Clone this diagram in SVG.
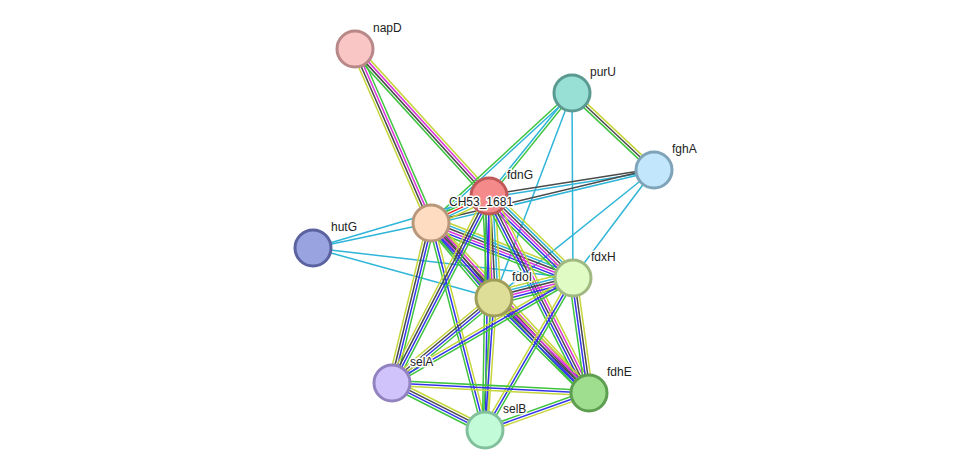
<svg xmlns="http://www.w3.org/2000/svg" width="976" height="476" viewBox="0 0 976 476">
<style>
line{stroke-width:1.5;fill:none}
.g{stroke:#3ec43e}.m{stroke:#dd33dd}.k{stroke:#4a4a4a}.y{stroke:#c5d63a}.b{stroke:#3333ee}.c{stroke:#2fb5d8}.r{stroke:#ee2222}
circle{stroke-width:3}
text{font-family:"Liberation Sans",Arial,sans-serif;font-size:12px;fill:#222;stroke:#fff;stroke-width:3;paint-order:stroke;stroke-linejoin:round}
</style>
<rect width="976" height="476" fill="#fff"/>
<g id="edges">
<g transform="translate(355,49) rotate(66.4)"><line x2="190" y1="-3.9" y2="-3.9" class="g"/><line x2="190" y1="-1.3" y2="-1.3" class="m"/><line x2="190" y1="1.3" y2="1.3" class="k"/><line x2="190" y1="3.9" y2="3.9" class="y"/></g>
<g transform="translate(355,49) rotate(47.65)"><line x2="199" y1="-3.9" y2="-3.9" class="y"/><line x2="199" y1="-1.3" y2="-1.3" class="m"/><line x2="199" y1="1.3" y2="1.3" class="k"/><line x2="199" y1="3.9" y2="3.9" class="g"/></g>
<g transform="translate(572,93) rotate(43.2)"><line x2="112.5" y1="-2.6" y2="-2.6" class="y"/><line x2="112.5" y1="0" y2="0" class="k"/><line x2="112.5" y1="2.6" y2="2.6" class="g"/></g>
<g transform="translate(572,93) rotate(128.9)"><line x2="132.3" y1="-1.3" y2="-1.3" class="g"/><line x2="132.3" y1="1.3" y2="1.3" class="c"/></g>
<g transform="translate(572,93) rotate(137.3)"><line x2="191.8" y1="-1.3" y2="-1.3" class="c"/><line x2="191.8" y1="1.3" y2="1.3" class="g"/></g>
<g transform="translate(572,93) rotate(110.8)"><line x2="219.3" class="c"/></g>
<g transform="translate(572,93) rotate(89.7)"><line x2="185" class="c"/></g>
<g transform="translate(654,170) rotate(171)"><line x2="167" y1="-1.3" y2="-1.3" class="c"/><line x2="167" y1="1.3" y2="1.3" class="k"/></g>
<g transform="translate(654,170) rotate(166.6)"><line x2="229.2" y1="-1.3" y2="-1.3" class="c"/><line x2="229.2" y1="1.3" y2="1.3" class="k"/></g>
<g transform="translate(654,170) rotate(126.9)"><line x2="135" class="c"/></g>
<g transform="translate(654,170) rotate(141.3)"><line x2="204.9" class="c"/></g>
<g transform="translate(313,248) rotate(-11.96)"><line x2="120.6" class="c"/></g>
<g transform="translate(313,248) rotate(-16.46)"><line x2="183.5" class="c"/></g>
<g transform="translate(313,248) rotate(6.58)"><line x2="261.7" class="c"/></g>
<g transform="translate(313,248) rotate(15.44)"><line x2="187.8" class="c"/></g>
<g transform="translate(431,223) rotate(-24.96)"><line x2="64" y1="-3.9" y2="-3.9" class="g"/><line x2="64" y1="-1.3" y2="-1.3" class="r"/><line x2="64" y1="1.3" y2="1.3" class="c"/><line x2="64" y1="3.9" y2="3.9" class="y"/></g>
<g transform="translate(431,223) rotate(49.97)"><line x2="97.9" y1="-5.2" y2="-5.2" class="y"/><line x2="97.9" y1="-2.6" y2="-2.6" class="k"/><line x2="97.9" y1="0" y2="0" class="m"/><line x2="97.9" y1="2.6" y2="2.6" class="b"/><line x2="97.9" y1="5.2" y2="5.2" class="g"/></g>
<g transform="translate(431,223) rotate(21.17)"><line x2="152.3" y1="-6.5" y2="-6.5" class="y"/><line x2="152.3" y1="-3.9" y2="-3.9" class="c"/><line x2="152.3" y1="-1.3" y2="-1.3" class="k"/><line x2="152.3" y1="1.3" y2="1.3" class="m"/><line x2="152.3" y1="3.9" y2="3.9" class="b"/><line x2="152.3" y1="6.5" y2="6.5" class="g"/></g>
<g transform="translate(431,223) rotate(103.7)"><line x2="164.7" y1="-3.9" y2="-3.9" class="g"/><line x2="164.7" y1="-1.3" y2="-1.3" class="b"/><line x2="164.7" y1="1.3" y2="1.3" class="k"/><line x2="164.7" y1="3.9" y2="3.9" class="y"/></g>
<g transform="translate(431,223) rotate(75.38)"><line x2="213.9" y1="-2.6" y2="-2.6" class="y"/><line x2="213.9" y1="0" y2="0" class="b"/><line x2="213.9" y1="2.6" y2="2.6" class="g"/></g>
<g transform="translate(431,223) rotate(47.1)"><line x2="232.1" y1="-5.2" y2="-5.2" class="y"/><line x2="232.1" y1="-2.6" y2="-2.6" class="m"/><line x2="232.1" y1="0" y2="0" class="k"/><line x2="232.1" y1="2.6" y2="2.6" class="b"/><line x2="232.1" y1="5.2" y2="5.2" class="g"/></g>
<g transform="translate(489,196) rotate(87.2)"><line x2="102.1" y1="-6.5" y2="-6.5" class="y"/><line x2="102.1" y1="-3.9" y2="-3.9" class="c"/><line x2="102.1" y1="-1.3" y2="-1.3" class="k"/><line x2="102.1" y1="1.3" y2="1.3" class="m"/><line x2="102.1" y1="3.9" y2="3.9" class="b"/><line x2="102.1" y1="6.5" y2="6.5" class="g"/></g>
<g transform="translate(489,196) rotate(44.3)"><line x2="117.4" y1="-6.5" y2="-6.5" class="y"/><line x2="117.4" y1="-3.9" y2="-3.9" class="c"/><line x2="117.4" y1="-1.3" y2="-1.3" class="k"/><line x2="117.4" y1="1.3" y2="1.3" class="m"/><line x2="117.4" y1="3.9" y2="3.9" class="b"/><line x2="117.4" y1="6.5" y2="6.5" class="g"/></g>
<g transform="translate(489,196) rotate(117.4)"><line x2="210.7" y1="-3.9" y2="-3.9" class="g"/><line x2="210.7" y1="-1.3" y2="-1.3" class="b"/><line x2="210.7" y1="1.3" y2="1.3" class="k"/><line x2="210.7" y1="3.9" y2="3.9" class="y"/></g>
<g transform="translate(489,196) rotate(90.98)"><line x2="234" y1="-2.6" y2="-2.6" class="y"/><line x2="234" y1="0" y2="0" class="b"/><line x2="234" y1="2.6" y2="2.6" class="g"/></g>
<g transform="translate(489,196) rotate(63.1)"><line x2="220.9" y1="-5.2" y2="-5.2" class="y"/><line x2="220.9" y1="-2.6" y2="-2.6" class="m"/><line x2="220.9" y1="0" y2="0" class="k"/><line x2="220.9" y1="2.6" y2="2.6" class="b"/><line x2="220.9" y1="5.2" y2="5.2" class="g"/></g>
<g transform="translate(494,298) rotate(-14.2)"><line x2="81.5" y1="-6.5" y2="-6.5" class="y"/><line x2="81.5" y1="-3.9" y2="-3.9" class="c"/><line x2="81.5" y1="-1.3" y2="-1.3" class="k"/><line x2="81.5" y1="1.3" y2="1.3" class="m"/><line x2="81.5" y1="3.9" y2="3.9" class="b"/><line x2="81.5" y1="6.5" y2="6.5" class="g"/></g>
<g transform="translate(494,298) rotate(140.2)"><line x2="132.8" y1="-3.9" y2="-3.9" class="g"/><line x2="132.8" y1="-1.3" y2="-1.3" class="b"/><line x2="132.8" y1="1.3" y2="1.3" class="k"/><line x2="132.8" y1="3.9" y2="3.9" class="y"/></g>
<g transform="translate(494,298) rotate(93.9)"><line x2="132.3" y1="-2.6" y2="-2.6" class="y"/><line x2="132.3" y1="0" y2="0" class="b"/><line x2="132.3" y1="2.6" y2="2.6" class="g"/></g>
<g transform="translate(494,298) rotate(45)"><line x2="134.4" y1="-5.2" y2="-5.2" class="y"/><line x2="134.4" y1="-2.6" y2="-2.6" class="m"/><line x2="134.4" y1="0" y2="0" class="k"/><line x2="134.4" y1="2.6" y2="2.6" class="b"/><line x2="134.4" y1="5.2" y2="5.2" class="g"/></g>
<g transform="translate(573,278) rotate(149.9)"><line x2="209.3" y1="-2.6" y2="-2.6" class="g"/><line x2="209.3" y1="0" y2="0" class="b"/><line x2="209.3" y1="2.6" y2="2.6" class="y"/></g>
<g transform="translate(573,278) rotate(120.1)"><line x2="175.6" y1="-2.6" y2="-2.6" class="g"/><line x2="175.6" y1="0" y2="0" class="b"/><line x2="175.6" y1="2.6" y2="2.6" class="y"/></g>
<g transform="translate(573,278) rotate(82.1)"><line x2="116.1" y1="-3.9" y2="-3.9" class="y"/><line x2="116.1" y1="-1.3" y2="-1.3" class="k"/><line x2="116.1" y1="1.3" y2="1.3" class="b"/><line x2="116.1" y1="3.9" y2="3.9" class="g"/></g>
<g transform="translate(392,383) rotate(26.8)"><line x2="104.2" y1="-3.9" y2="-3.9" class="y"/><line x2="104.2" y1="-1.3" y2="-1.3" class="k"/><line x2="104.2" y1="1.3" y2="1.3" class="b"/><line x2="104.2" y1="3.9" y2="3.9" class="g"/></g>
<g transform="translate(392,383) rotate(2.9)"><line x2="197.3" y1="-2.6" y2="-2.6" class="g"/><line x2="197.3" y1="0" y2="0" class="b"/><line x2="197.3" y1="2.6" y2="2.6" class="y"/></g>
<g transform="translate(485,430) rotate(-19.6)"><line x2="110.4" y1="-2.6" y2="-2.6" class="g"/><line x2="110.4" y1="0" y2="0" class="b"/><line x2="110.4" y1="2.6" y2="2.6" class="y"/></g>
</g>
<g id="napD"><circle cx="355" cy="49" r="18" fill="#f9c5c5" stroke="#b88787"/><text x="373" y="32">napD</text></g>
<g id="purU"><circle cx="572" cy="93" r="18" fill="#98dfd6" stroke="#5a9a90"/><text x="590" y="76">purU</text></g>
<g id="fghA"><circle cx="654" cy="170" r="18" fill="#c2e6fb" stroke="#7fa4ba"/><text x="672" y="153">fghA</text></g>
<g id="fdnG"><circle cx="489" cy="196" r="18" fill="#f48a8a" stroke="#c05858"/><text x="507" y="179">fdnG</text></g>
<g id="CH53_1681"><circle cx="431" cy="223" r="18" fill="#fddcc1" stroke="#b8977a"/><text x="449" y="206">CH53_1681</text></g>
<g id="hutG"><circle cx="313" cy="248" r="18" fill="#99a3e0" stroke="#5a62a0"/><text x="331" y="231">hutG</text></g>
<g id="fdxH"><circle cx="573" cy="278" r="18" fill="#e0fbc4" stroke="#a0b882"/><text x="591" y="261">fdxH</text></g>
<g id="fdoI"><circle cx="494" cy="298" r="18" fill="#dede98" stroke="#9e9e5a"/><text x="512" y="281">fdoI</text></g>
<g id="selA"><circle cx="392" cy="383" r="18" fill="#d0c2fb" stroke="#9282c0"/><text x="410" y="366">selA</text></g>
<g id="fdhE"><circle cx="589" cy="393" r="18" fill="#9ede8e" stroke="#5e9e50"/><text x="607" y="376">fdhE</text></g>
<g id="selB"><circle cx="485" cy="430" r="18" fill="#c2fbd8" stroke="#82c09c"/><text x="503" y="413">selB</text></g>
</svg>
